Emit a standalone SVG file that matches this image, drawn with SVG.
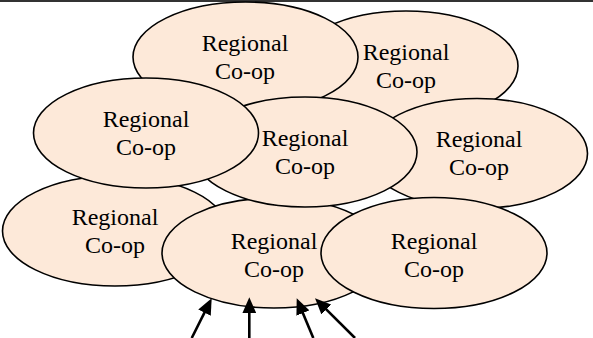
<svg xmlns="http://www.w3.org/2000/svg" width="593" height="338" viewBox="0 0 593 338">
  <style>
    .node ellipse { fill: #FDE9D9; stroke: #000; stroke-width: 1.6; }
    .node text { font-family: "Liberation Serif", "Times New Roman", serif; font-size: 24px; fill: #000; text-anchor: middle; }
    .conn line { stroke: #000; stroke-width: 2.6; fill: none; }
  </style>
  <defs>
    <marker id="arrow" markerUnits="userSpaceOnUse" markerWidth="16" markerHeight="14" refX="8" refY="7" orient="auto">
      <path d="M0,0 L16,7 L0,14 z" fill="#000"/>
    </marker>
  </defs>
  <rect x="0" y="0" width="593" height="338" fill="#fff"/>
  <line x1="0" y1="1" x2="593" y2="1" stroke="#333" stroke-width="2"/>

  <g id="coop2" class="node">
    <ellipse cx="406" cy="66" rx="112" ry="55"/>
    <text x="406" y="60">Regional</text>
    <text x="406" y="88">Co-op</text>
  </g>
  <g id="coop1" class="node">
    <ellipse cx="245.5" cy="57" rx="112.5" ry="55"/>
    <text x="245" y="51">Regional</text>
    <text x="245" y="79">Co-op</text>
  </g>
  <g id="coop5" class="node">
    <ellipse cx="477" cy="153.5" rx="110.5" ry="55"/>
    <text x="479" y="147">Regional</text>
    <text x="479" y="175">Co-op</text>
  </g>
  <g id="coop6" class="node">
    <ellipse cx="115" cy="231" rx="112.5" ry="55"/>
    <text x="115" y="224.5">Regional</text>
    <text x="115" y="252.5">Co-op</text>
  </g>
  <g id="coop7" class="node">
    <ellipse cx="274" cy="253" rx="112" ry="55"/>
    <text x="274" y="248.5">Regional</text>
    <text x="274" y="276.5">Co-op</text>
  </g>
  <g id="coop8" class="node">
    <ellipse cx="434" cy="253" rx="113" ry="55.5"/>
    <text x="434" y="248.5">Regional</text>
    <text x="434" y="276.5">Co-op</text>
  </g>
  <g id="coop4" class="node">
    <ellipse cx="305" cy="152" rx="112" ry="55"/>
    <text x="305" y="146">Regional</text>
    <text x="305" y="174">Co-op</text>
  </g>
  <g id="coop3" class="node">
    <ellipse cx="146" cy="133" rx="112.5" ry="55"/>
    <text x="146" y="127">Regional</text>
    <text x="146" y="155">Co-op</text>
  </g>

  <g id="connectors" class="conn">
    <line x1="191.7" y1="338" x2="208.1" y2="305.4" marker-end="url(#arrow)"/>
    <line x1="249.3" y1="338" x2="249.3" y2="305.3" marker-end="url(#arrow)"/>
    <line x1="313.3" y1="338" x2="299.8" y2="305.7" marker-end="url(#arrow)"/>
    <line x1="355" y1="338" x2="320.7" y2="303.9" marker-end="url(#arrow)"/>
  </g>
</svg>
